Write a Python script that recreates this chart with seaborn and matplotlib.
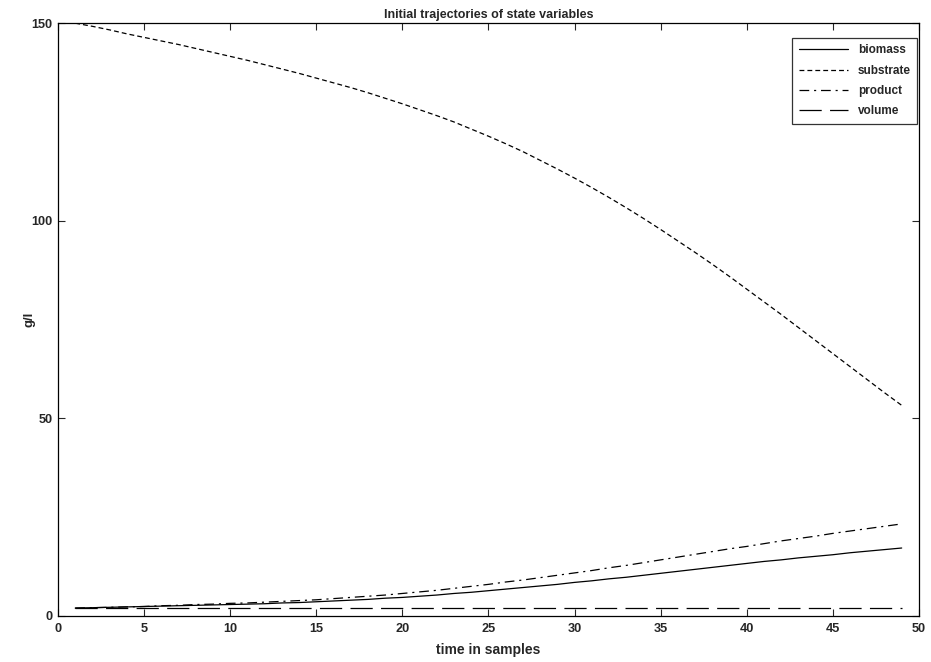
"""Initial trajectories of state variables (fed-batch simulation)."""

import matplotlib

matplotlib.use("Agg")
import matplotlib.pyplot as plt
import pandas as pd
import seaborn as sns

SAMPLES = list(range(1, 50))

BIOMASS = [
    2.0, 2.1, 2.2, 2.3, 2.4, 2.5, 2.6, 2.7, 2.8, 2.9,
    3.0, 3.1, 3.3, 3.4, 3.6, 3.8, 4.0, 4.2, 4.5, 4.7,
    5.0, 5.3, 5.7, 6.0, 6.4, 6.8, 7.2, 7.6, 8.0, 8.5,
    8.9, 9.4, 9.8, 10.3, 10.8, 11.3, 11.8, 12.3, 12.8, 13.3,
    13.8, 14.2, 14.7, 15.1, 15.5, 16.0, 16.4, 16.8, 17.2,
]
SUBSTRATE = [
    150.0, 149.2, 148.3, 147.3, 146.4, 145.5, 144.6, 143.6, 142.6, 141.6,
    140.6, 139.5, 138.4, 137.3, 136.1, 134.9, 133.7, 132.4, 131.0, 129.6,
    128.1, 126.6, 125.0, 123.2, 121.4, 119.5, 117.5, 115.3, 113.1, 110.8,
    108.4, 105.9, 103.3, 100.6, 97.8, 94.9, 92.0, 89.0, 85.9, 82.7,
    79.5, 76.3, 73.0, 69.7, 66.4, 63.1, 59.8, 56.5, 53.3,
]
PRODUCT = [
    2.0, 2.1, 2.2, 2.3, 2.4, 2.6, 2.7, 2.9, 3.0, 3.2,
    3.3, 3.5, 3.7, 3.9, 4.1, 4.4, 4.7, 5.0, 5.3, 5.7,
    6.1, 6.5, 7.0, 7.5, 8.0, 8.6, 9.1, 9.7, 10.3, 10.9,
    11.5, 12.2, 12.8, 13.5, 14.2, 14.9, 15.6, 16.3, 17.0, 17.6,
    18.3, 19.0, 19.6, 20.2, 20.9, 21.5, 22.1, 22.7, 23.3,
]
VOLUME = [
    2.0, 2.0, 2.0, 2.0, 2.0, 2.0, 2.0, 2.0, 2.0, 2.0,
    2.0, 2.0, 2.0, 2.0, 2.0, 2.0, 2.0, 2.0, 2.0, 2.0,
    2.0, 2.0, 2.0, 2.0, 2.0, 2.0, 2.0, 2.0, 2.0, 2.0,
    2.0, 2.0, 2.0, 2.0, 2.0, 2.0, 2.0, 2.0, 2.0, 2.0,
    2.0, 2.0, 2.0, 2.0, 2.0, 2.0, 2.0, 2.0, 2.0,
]

SERIES = ["biomass", "substrate", "product", "volume"]
DASHES = {
    "biomass": "",
    "substrate": (3.5, 2.2),
    "product": (7, 3.5, 1.5, 3.5),
    "volume": (16, 6),
}


def build_frame() -> pd.DataFrame:
    values = {"biomass": BIOMASS, "substrate": SUBSTRATE, "product": PRODUCT, "volume": VOLUME}
    parts = [
        pd.DataFrame({"sample": SAMPLES, "value": vals, "variable": name})
        for name, vals in values.items()
    ]
    return pd.concat(parts, ignore_index=True)


def main() -> None:
    sns.set_style("ticks")
    plt.rcParams["font.family"] = ["Liberation Sans", "DejaVu Sans"]
    plt.rcParams["font.weight"] = "bold"
    plt.rcParams["lines.scale_dashes"] = False

    df = build_frame()

    fig = plt.figure(figsize=(9.31, 6.62), dpi=100)
    ax = fig.add_axes([0.0623, 0.0695, 0.9247, 0.8955])

    sns.lineplot(
        data=df,
        x="sample",
        y="value",
        hue="variable",
        style="variable",
        hue_order=SERIES,
        style_order=SERIES,
        palette={name: "black" for name in SERIES},
        dashes=DASHES,
        linewidth=0.9,
        ax=ax,
    )

    ax.set_xlim(0, 50)
    ax.set_ylim(0, 150)
    ax.set_xticks(range(0, 51, 5))
    ax.set_yticks([0, 50, 100, 150])
    ax.tick_params(direction="in", top=True, right=True, length=5, width=0.8,
                   labelsize=9.2)
    ax.tick_params(axis="x", pad=5)
    ax.tick_params(axis="y", pad=4)
    for spine in ax.spines.values():
        spine.set_visible(True)
        spine.set_linewidth(0.9)
        spine.set_color("black")

    ax.set_title("Initial trajectories of state variables", fontsize=9,
                 fontweight="bold", pad=4)
    ax.set_xlabel("time in samples", fontsize=10, fontweight="bold", labelpad=6)
    ax.set_ylabel("g/l", fontsize=9.5, fontweight="bold")
    # MATLAB puts the y label close to the axis, between the tick labels
    ax.yaxis.set_label_coords(-0.026, 0.5)

    leg = ax.legend(loc="upper right", bbox_to_anchor=(0.998, 0.975),
                    borderaxespad=0, fontsize=8.5, frameon=True, fancybox=False,
                    edgecolor="black", handlelength=4.2,
                    labelspacing=0.7, borderpad=0.55)
    leg.get_frame().set_linewidth(0.9)

    fig.savefig("out.png", dpi=100)
    plt.close(fig)


if __name__ == "__main__":
    main()
